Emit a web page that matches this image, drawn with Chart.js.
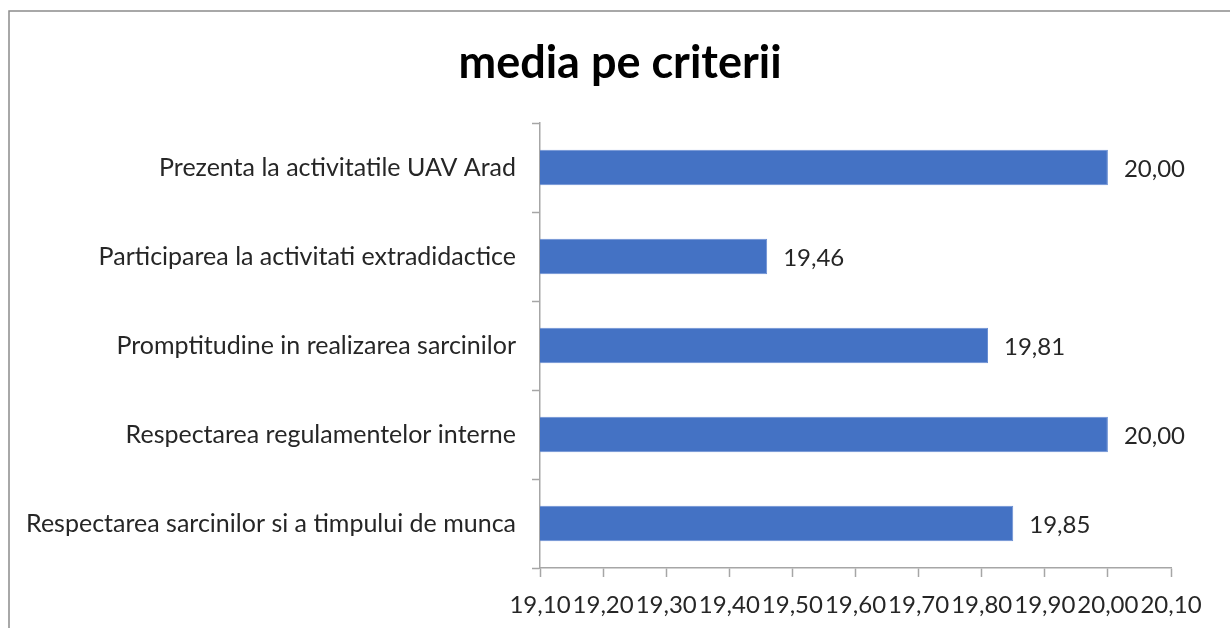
<!DOCTYPE html>
<html>
<head>
<meta charset="utf-8">
<script src="https://cdn.jsdelivr.net/npm/chart.js@4/dist/chart.umd.min.js"></script>
<style>
  html, body { margin: 0; padding: 0; background: #fff; }
  #wrap { width: 1230px; height: 628px; position: relative; }
</style>
</head>
<body>
<div id="wrap"><canvas id="c" width="1230" height="628"></canvas></div>
<script>
const categories = [
  "Prezenta la activitatile UAV Arad",
  "Participarea la activitati extradidactice",
  "Promptitudine in realizarea sarcinilor",
  "Respectarea regulamentelor interne",
  "Respectarea sarcinilor si a timpului de munca"
];
const values = [20.00, 19.46, 19.81, 20.00, 19.85];
const axisMin = 19.10;
const axisMax = 20.10;
const axisStep = 0.10;
const titleText = "media pe criterii";

const fmt = v => Number(v).toFixed(2).replace('.', ',');

const frameAndLabels = {
  id: 'frameAndLabels',
  afterLayout(chart) {
    // centre the title over the whole framed chart (frame starts at x=9)
    if (chart.titleBlock) {
      chart.titleBlock.left = 10;
      chart.titleBlock.right = 1230;
      chart.titleBlock.width = 1220;
    }
  },
  beforeDraw(chart) {
    const ctx = chart.ctx;
    ctx.save();
    ctx.strokeStyle = '#8c8c8c';
    ctx.lineWidth = 1.5;
    ctx.beginPath();
    ctx.moveTo(9, 640);
    ctx.lineTo(9, 11);
    ctx.lineTo(1240, 11);
    ctx.stroke();
    ctx.restore();
  },
  afterDatasetsDraw(chart) {
    const ctx = chart.ctx;
    const meta = chart.getDatasetMeta(0);
    ctx.save();
    ctx.font = '24px Lato';
    ctx.fillStyle = '#262626';
    ctx.textAlign = 'left';
    ctx.textBaseline = 'middle';
    meta.data.forEach((bar, i) => {
      ctx.fillText(fmt(chart.data.datasets[0].data[i]), bar.x + 16, bar.y + 2);
    });
    ctx.restore();
  }
};

new Chart(document.getElementById('c'), {
  type: 'bar',
  data: {
    labels: categories,
    datasets: [{
      data: values,
      backgroundColor: '#4472C4',
      borderColor: '#6a8fd3',
      borderWidth: 1,
      borderSkipped: false,
      categoryPercentage: 1.0,
      barPercentage: 0.4
    }]
  },
  options: {
    indexAxis: 'y',
    responsive: false,
    animation: false,
    layout: { padding: { left: 0, right: 59, top: 0, bottom: 0 } },
    plugins: {
      legend: { display: false },
      tooltip: { enabled: false },
      title: {
        display: true,
        text: titleText,
        color: '#000',
        font: { family: 'Lato', size: 45, weight: 'bold' },
        padding: { top: 36, bottom: 33 }
      }
    },
    scales: {
      x: {
        type: 'linear',
        min: axisMin,
        max: axisMax,
        grid: { drawOnChartArea: false, color: '#a6a6a6', tickLength: 9, tickWidth: 1.5 },
        border: { color: '#a6a6a6', width: 1.5 },
        ticks: {
          stepSize: axisStep,
          autoSkip: false,
          maxRotation: 0,
          minRotation: 0,
          color: '#262626',
          font: { family: 'Lato', size: 24 },
          padding: 14,
          callback: v => fmt(v)
        },
        afterFit(scale) { scale.height = 60; }
      },
      y: {
        grid: { drawOnChartArea: false, offset: true, color: '#a6a6a6', tickLength: 8, tickWidth: 1.5 },
        border: { color: '#a6a6a6', width: 1.5 },
        ticks: {
          color: '#262626',
          font: { family: 'Lato', size: 25 },
          padding: 16,
          autoSkip: false
        },
        afterFit(scale) { scale.width = 540; }
      }
    }
  },
  plugins: [frameAndLabels]
});
</script>
</body>
</html>
